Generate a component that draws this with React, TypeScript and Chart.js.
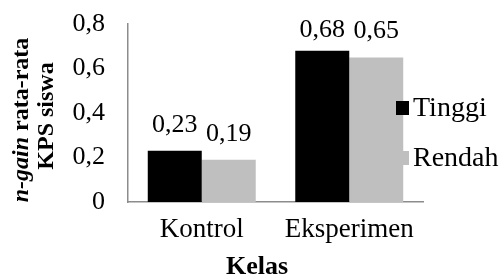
import React, { useEffect, useRef } from "react";
import { Chart, registerables } from "chart.js";

Chart.register(...registerables);

const categories = ["Kontrol", "Eksperimen"];
const seriesNames = ["Tinggi", "Rendah"];
const tinggiValues = [0.23, 0.68];
const rendahValues = [0.19, 0.65];
const tinggiLabels = ["0,23", "0,68"];
const rendahLabels = ["0,19", "0,65"];
const yTickValues = [0, 0.2, 0.4, 0.6, 0.8];
const yTickLabels = ["0", "0,2", "0,4", "0,6", "0,8"];
const xTitle = "Kelas";
const yTitleItalic = "n-gain";
const yTitleRest = " rata-rata";
const yTitleLine2 = "KPS siswa";

const SERIF = "'Liberation Serif', 'Times New Roman', serif";
const COLORS = ["#000000", "#bfbfbf"];
const AXIS = "#8c8c8c";

export default function App() {
  const ref = useRef<HTMLCanvasElement | null>(null);

  useEffect(() => {
    if (!ref.current) return;
    const labelsBySeries = [tinggiLabels, rendahLabels];

    const overlay = {
      id: "overlay",
      afterDraw(chart: any) {
        const ctx = chart.ctx as CanvasRenderingContext2D;
        const area = chart.chartArea;
        ctx.save();
        ctx.fillStyle = "#000";
        // data labels
        ctx.font = `26px ${SERIF}`;
        ctx.textAlign = "center";
        ctx.textBaseline = "alphabetic";
        chart.data.datasets.forEach((_ds: any, di: number) => {
          const meta = chart.getDatasetMeta(di);
          meta.data.forEach((el: any, i: number) => {
            const y = Math.max(el.y - 19, area.top + 13);
            ctx.fillText(labelsBySeries[di][i], el.x, y);
          });
        });
        // x title
        ctx.font = `bold 26px ${SERIF}`;
        ctx.fillText(xTitle, 257, 274);
        // y title
        ctx.save();
        ctx.translate(28, 120);
        ctx.rotate(-Math.PI / 2);
        ctx.textAlign = "left";
        ctx.font = `italic bold 24px ${SERIF}`;
        const w1 = ctx.measureText(yTitleItalic).width;
        ctx.font = `bold 24px ${SERIF}`;
        const w2 = ctx.measureText(yTitleRest).width;
        const start = -(w1 + w2) / 2;
        ctx.font = `italic bold 24px ${SERIF}`;
        ctx.fillText(yTitleItalic, start, 0);
        ctx.font = `bold 24px ${SERIF}`;
        ctx.fillText(yTitleRest, start + w1, 0);
        ctx.restore();
        ctx.save();
        ctx.translate(53, 116);
        ctx.rotate(-Math.PI / 2);
        ctx.textAlign = "center";
        ctx.font = `bold 24px ${SERIF}`;
        ctx.fillText(yTitleLine2, 0, 0);
        ctx.restore();
        // legend
        ctx.textAlign = "left";
        ctx.font = `28px ${SERIF}`;
        seriesNames.forEach((name, i) => {
          const cy = 108 + i * 50;
          ctx.fillStyle = COLORS[i];
          ctx.fillRect(396, cy - 7, 13, 14);
          ctx.fillStyle = "#000";
          ctx.fillText(name, 413, cy + 8);
        });
        ctx.restore();
      },
    };

    const chart = new Chart(ref.current, {
      type: "bar",
      data: {
        labels: categories,
        datasets: [
          { label: seriesNames[0], data: tinggiValues, backgroundColor: COLORS[0] },
          { label: seriesNames[1], data: rendahValues, backgroundColor: COLORS[1] },
        ],
      },
      options: {
        responsive: false,
        animation: false,
        devicePixelRatio: 1,
        layout: { padding: { left: 0, right: 81, top: 24, bottom: 0 } },
        datasets: { bar: { categoryPercentage: 0.732, barPercentage: 1 } },
        plugins: { legend: { display: false }, tooltip: { enabled: false } },
        scales: {
          x: {
            grid: { display: false, drawTicks: false },
            border: { display: true, color: AXIS, width: 1.5 },
            ticks: { color: "#000", font: { family: SERIF, size: 27 }, padding: 12 },
            afterFit(scale: any) {
              scale.height = 78;
              scale.paddingLeft = 0;
              scale.paddingRight = 0;
            },
          },
          y: {
            min: 0,
            max: 0.8,
            grid: { display: false, drawTicks: false },
            border: { display: true, color: AXIS, width: 1.5 },
            afterBuildTicks(scale: any) {
              scale.ticks = yTickValues.map((v) => ({ value: v }));
            },
            ticks: {
              color: "#000",
              font: { family: SERIF, size: 26 },
              padding: 23,
              callback: (v: any) => {
                const idx = yTickValues.findIndex((t) => Math.abs(t - Number(v)) < 1e-9);
                return idx >= 0 ? yTickLabels[idx] : "";
              },
            },
            afterFit(scale: any) {
              scale.width = 128;
              scale.paddingTop = 0;
              scale.paddingBottom = 0;
            },
          },
        },
      },
      plugins: [overlay],
    });
    return () => chart.destroy();
  }, []);

  return (
    <div style={{ position: "fixed", left: 0, top: 0, width: 504, height: 280, background: "#fff" }}>
      <canvas ref={ref} width={504} height={280} style={{ display: "block" }} />
    </div>
  );
}
